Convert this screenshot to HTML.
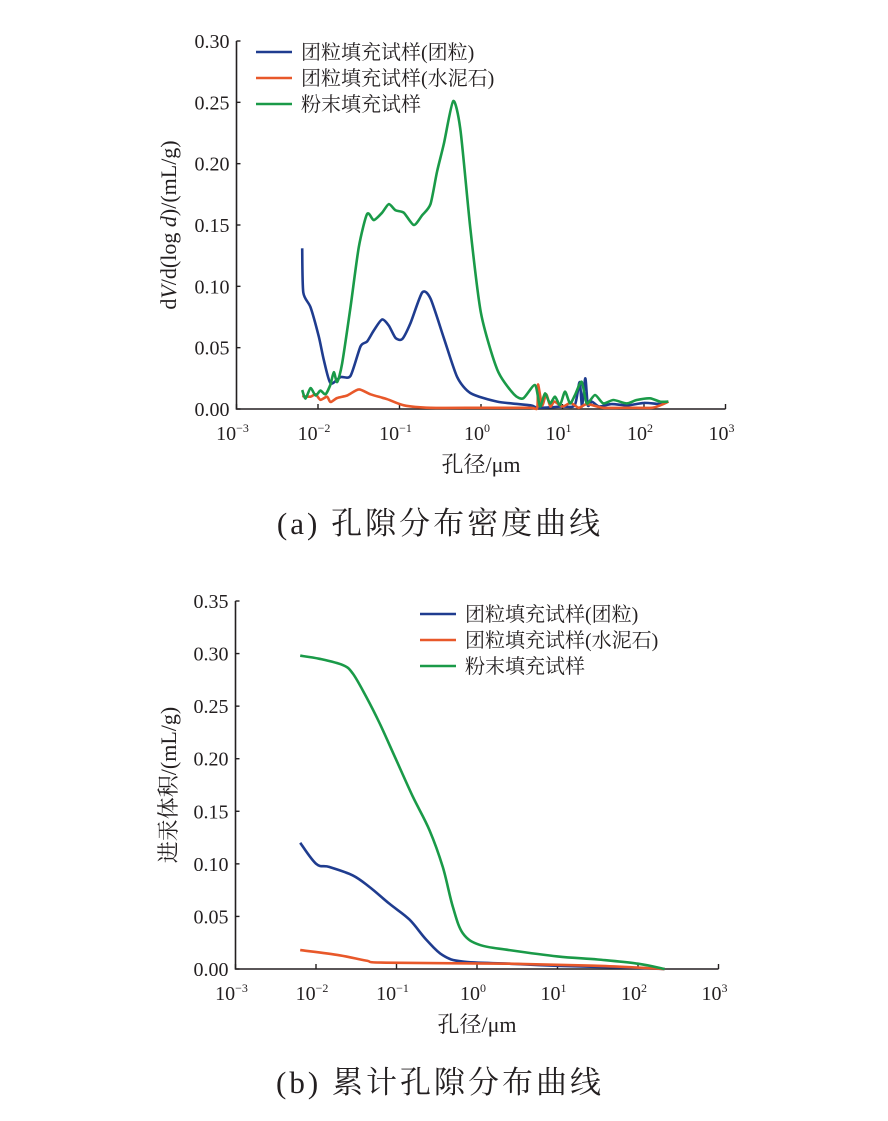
<!DOCTYPE html>
<html><head><meta charset="utf-8"><style>
body{margin:0;background:#fff;}
svg{display:block;}
text{font-family:"Liberation Serif","Noto Serif CJK SC","Noto Sans CJK SC",serif;fill:#231f20;}
</style></head><body>
<svg id="root" width="888" height="1121" viewBox="0 0 888 1121"></svg>
<script>
// ---------- Chart (a) data: pore size distribution density ----------
const aBlueX=[-2.194,-2.180,-2.092,-1.990,-1.929,-1.847,-1.724,-1.601,-1.479,-1.397,-1.315,-1.213,-1.131,-1.049,-0.967,-0.865,-0.722,-0.620,-0.456,-0.292,-0.129,0.199,0.607,0.700,1.00,1.15,1.21,1.24,1.28,1.31,1.36,1.45,1.6,1.8,2.0,2.2,2.25];
const aBlueY=[0.131,0.095,0.083,0.059,0.040,0.021,0.026,0.027,0.051,0.055,0.064,0.073,0.068,0.058,0.057,0.070,0.095,0.090,0.058,0.026,0.013,0.006,0.003,0.001,0.002,0.003,0.022,0.002,0.025,0.003,0.006,0.002,0.004,0.003,0.005,0.004,0.006];
const aGreenX=[-2.194,-2.153,-2.092,-2.03,-1.97,-1.908,-1.847,-1.806,-1.765,-1.704,-1.601,-1.499,-1.397,-1.315,-1.213,-1.131,-1.049,-0.947,-0.824,-0.722,-0.620,-0.538,-0.456,-0.341,-0.251,-0.129,0.0,0.2,0.404,0.519,0.663,0.724,0.785,0.847,0.908,0.969,1.031,1.092,1.153,1.235,1.297,1.399,1.501,1.624,1.787,1.910,2.074,2.196,2.298];
const aGreenY=[0.0155,0.0085,0.017,0.011,0.015,0.012,0.020,0.030,0.022,0.037,0.083,0.132,0.159,0.154,0.160,0.167,0.162,0.160,0.150,0.158,0.167,0.194,0.216,0.251,0.227,0.146,0.078,0.032,0.012,0.0087,0.0195,0.002,0.0127,0.0046,0.010,0.0033,0.0141,0.0046,0.0114,0.0222,0.0046,0.0114,0.0046,0.0073,0.0046,0.0073,0.0087,0.006,0.006];
const aOrangeX=[-2.194,-2.092,-2.03,-1.97,-1.888,-1.847,-1.765,-1.642,-1.499,-1.356,-1.151,-0.947,-0.620,0.0,0.6,0.69,0.70,0.75,0.8,0.85,0.9,1.0,1.1,1.2,1.3,1.5,1.8,2.1,2.2,2.3];
const aOrangeY=[0.0106,0.010,0.012,0.0075,0.010,0.0057,0.009,0.011,0.016,0.012,0.008,0.003,0.001,0.001,0.001,0.001,0.020,0.003,0.012,0.002,0.006,0.002,0.005,0.001,0.004,0.001,0.001,0.001,0.003,0.006];
const aYTicks=["0.00","0.05","0.10","0.15","0.20","0.25","0.30"];
// ---------- Chart (b) data: cumulative intrusion volume ----------
const bGreenX=[-2.196,-1.957,-1.667,-1.543,-1.377,-1.211,-1.004,-0.797,-0.590,-0.425,-0.30,-0.176,0.031,0.404,1.0,1.5,2.0,2.33];
const bGreenY=[0.298,0.295,0.289,0.281,0.259,0.234,0.199,0.164,0.132,0.097,0.059,0.034,0.023,0.018,0.012,0.009,0.005,0.0];
const bBlueX=[-2.196,-1.998,-1.832,-1.543,-1.335,-1.087,-0.839,-0.631,-0.425,-0.176,0.404,1.0,2.0,2.33];
const bBlueY=[0.120,0.100,0.097,0.089,0.078,0.062,0.047,0.028,0.013,0.007,0.005,0.003,0.001,0.0];
const bOrangeX=[-2.196,-1.708,-1.377,-1.128,0.404,1.5,2.33];
const bOrangeY=[0.018,0.013,0.008,0.006,0.005,0.003,0.0];
const bYTicks=["0.00","0.05","0.10","0.15","0.20","0.25","0.30","0.35"];
const xExps=["−3","−2","−1","0","1","2","3"];
const legendLabels=["团粒填充试样(团粒)","团粒填充试样(水泥石)","粉末填充试样"];
const colors=["#1f3c8f","#e8582a","#1a9a48"];

const NS="http://www.w3.org/2000/svg";
const root=document.getElementById('root');
function mk(tag,attrs,parent){const e=document.createElementNS(NS,tag);for(const k in attrs)e.setAttribute(k,attrs[k]);(parent||root).appendChild(e);return e;}
function smooth(pts,t){
  let d='M'+pts[0][0].toFixed(1)+','+pts[0][1].toFixed(1);
  for(let i=0;i<pts.length-1;i++){
    const p0=pts[Math.max(0,i-1)],p1=pts[i],p2=pts[i+1],p3=pts[Math.min(pts.length-1,i+2)];
    const c1x=p1[0]+(p2[0]-p0[0])*t,c1y=p1[1]+(p2[1]-p0[1])*t;
    const c2x=p2[0]-(p3[0]-p1[0])*t,c2y=p2[1]-(p3[1]-p1[1])*t;
    d+=` C${c1x.toFixed(1)},${c1y.toFixed(1)} ${c2x.toFixed(1)},${c2y.toFixed(1)} ${p2[0].toFixed(1)},${p2[1].toFixed(1)}`;
  }
  return d;
}

function chart(cfg){
  const g=mk('g',{});
  
  
  const sx=v=>cfg.x0+(v+3)*cfg.dec;
  const sy=v=>cfg.y0-v/cfg.ymax*(cfg.y0-cfg.ytop);
  const ax=mk('path',{d:`M${cfg.x0},${cfg.ytop} V${cfg.y0} H${sx(3)}`,stroke:'#231f20','stroke-width':1.6,fill:'none'},g);
  
  
  cfg.yt.forEach((t,i)=>{
    const v=parseFloat(t), y=sy(v);
    mk('line',{x1:cfg.x0,x2:cfg.x0+4,y1:y,y2:y,stroke:'#231f20','stroke-width':1.4},g);
    const tx=mk('text',{x:cfg.x0-7,y:y+7,'text-anchor':'end','font-size':20},g);
    tx.textContent=t;
    
    
  });
  xExps.forEach((e,i)=>{
    const x=sx(i-3);
    mk('line',{x1:x,x2:x,y1:cfg.y0,y2:cfg.y0-5,stroke:'#231f20','stroke-width':1.4},g);
    const tx=mk('text',{x:x-4,y:cfg.y0+31,'text-anchor':'middle','font-size':20},g);
    tx.textContent='10';
    const sp=mk('tspan',{dy:-8,'font-size':12},tx);sp.textContent=e;
    
    
  });
  const xt=mk('text',{x:sx(0),y:cfg.y0+63,'text-anchor':'middle','font-size':22},g);
  xt.textContent='孔径/μm';
  
  
  const yt=mk('text',{x:0,y:0,'text-anchor':'middle','font-size':22,transform:`translate(${cfg.ytx},${(cfg.ytop+cfg.y0)/2}) rotate(-90)`},g);
  yt.innerHTML=cfg.ytitle;
  
  
  cfg.series.forEach((s,k)=>{
    const pts=s[0].map((v,i)=>[sx(v),sy(s[1][i])]);
    const p=mk('path',{d:smooth(pts,cfg.tension),stroke:colors[k],'stroke-width':2.6,fill:'none','stroke-linejoin':'round'},g);
    
    
  });
  legendLabels.forEach((l,k)=>{
    const y=cfg.ly+k*26;
    const ln=mk('line',{x1:cfg.lx,x2:cfg.lx+36,y1:y,y2:y,stroke:colors[k],'stroke-width':2.6},g);
    
    
    const tx=mk('text',{x:cfg.lx+45,y:y+7,'font-size':20},g);
    tx.textContent=l;
    
    
  });
  const cap=mk('text',{x:440,y:cfg.capy,'text-anchor':'middle','font-size':31,'letter-spacing':3},g);
  cap.textContent=cfg.cap;
  
  
}
chart({name:'chart-a',x0:236.5,dec:81.5,y0:409,ytop:41,ymax:0.30,yt:aYTicks,tension:0.12,
  ytitle:'d<tspan font-style="italic">V</tspan>/d(log <tspan font-style="italic">d</tspan>)/(mL/g)',ytx:176,
  series:[[aBlueX,aBlueY],[aOrangeX,aOrangeY],[aGreenX,aGreenY]],lx:256,ly:52,capy:534,cap:'(a) 孔隙分布密度曲线'});
chart({name:'chart-b',x0:235.5,dec:80.5,y0:969,ytop:601,ymax:0.35,yt:bYTicks,tension:0.17,
  ytitle:'进汞体积/(mL/g)',ytx:176,
  series:[[bBlueX,bBlueY],[bOrangeX,bOrangeY],[bGreenX,bGreenY]],lx:420,ly:614,capy:1093,cap:'(b) 累计孔隙分布曲线'});
</script>
</body></html>
